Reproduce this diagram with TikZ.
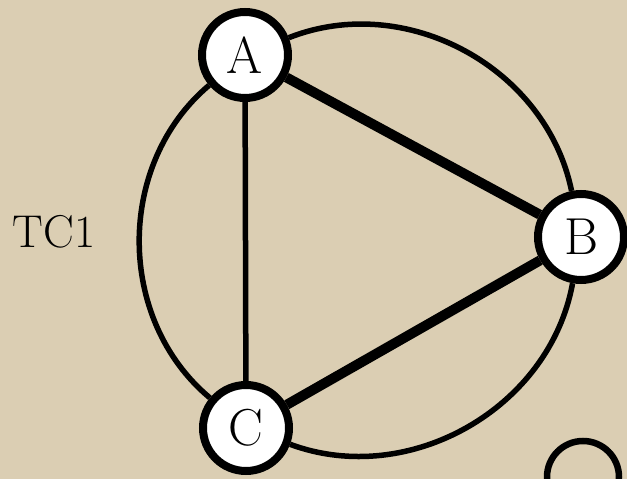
\documentclass[tikz,border=0pt]{standalone}
\usepackage{xcolor}
\usepackage{tikz}
\usetikzlibrary{arrows.meta,positioning,calc}
\definecolor{paperbeige}{HTML}{DBCEB3}
\definecolor{inkblack}{HTML}{000000}

\begin{document}
\begin{tikzpicture}[x=1pt, y=1pt,
    vertex/.style={circle, draw=inkblack, line width=8pt, fill=white, minimum size=86pt, inner sep=0pt, font=\fontsize{52}{60}\selectfont},
    thinedge/.style={line width=5.5pt, inkblack},
    thickedge/.style={line width=10pt, inkblack},
    arcedge/.style={line width=5.5pt, inkblack, bend left=50, looseness=1}]
  \fill[paperbeige] (0,0) rectangle (627,479);
  \useasboundingbox (0,0) rectangle (627,479);

  \node[vertex] (A) at (245,424) {A};
  \node[vertex] (B) at (581,242) {B};
  \node[vertex] (C) at (246,51) {C};
  \node[font=\fontsize{46}{54}\selectfont] (tc) at (54,247) {TC1};

  % outer arcs
  \draw[arcedge] (A) to (B);
  \draw[arcedge] (B) to (C);
  \draw[arcedge] (C) to (A);
  % triangle
  \draw[thinedge] (A) -- (C);
  \draw[thickedge] (A) -- (B);
  \draw[thickedge] (B) -- (C);

  % next graph, cut off at the edge
  \begin{scope}
    \clip (0,0) rectangle (627,479);
    \draw[line width=6.5pt, inkblack] (583,2) circle (36);
  \end{scope}
\end{tikzpicture}
\end{document}
